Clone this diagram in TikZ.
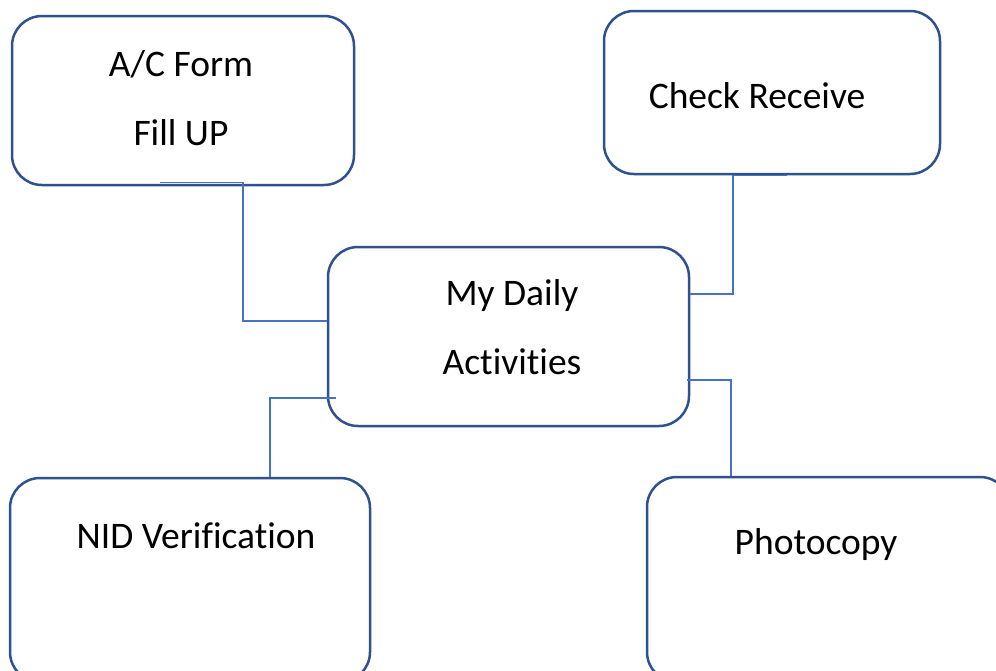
\documentclass[tikz,border=0pt]{standalone}
\usepackage{fontspec}
\setmainfont{Carlito}[Ligatures={NoCommon}]
\definecolor{boxblue}{HTML}{2F528F}
\definecolor{lineblue}{HTML}{4472C4}
\tikzset{
  task/.style={draw=boxblue, line width=2.5pt, rounded corners=30pt, fill=white,
    minimum width=#1, inner sep=0pt},
  txt/.style={font=\fontsize{37.5}{69}\selectfont, align=center, inner sep=0pt},
  link/.style={draw=lineblue, line width=1.5pt}
}
\begin{document}
\begin{tikzpicture}[x=1pt,y=-1pt]
  \clip (0,0) rectangle (996,670);
  \fill[white] (0,0) rectangle (996,670);
  \node[task=342pt, minimum height=169pt] (ac) at (183,100.5) {};
  \node[task=336pt, minimum height=163pt] (cr) at (772,92.5) {};
  \node[task=361pt, minimum height=179pt] (daily) at (508.5,336.5) {};
  \node[task=360pt, minimum height=204pt] (nid) at (190,580) {};
  \node[task=363pt, minimum height=205pt] (photo) at (828.5,579.5) {};
  \node[txt] (actext) at (181,98.5) {A/C Form\\Fill UP};
  \node[txt] (crtext) at (757,96) {Check Receive};
  \node[txt] (dailytext) at (512,327) {My Daily\\Activities};
  \node[txt] (nidtext) at (196,536) {NID Verification};
  \node[txt] (phototext) at (816,544) {Photocopy};
  \begin{scope}[link]
    \draw ([xshift=-23pt,yshift=4pt]ac.south) -- ++(83,0) |- ([yshift=15.5pt]daily.west);
    \draw ([yshift=42.5pt]daily.east) -| ([xshift=-39pt]cr.south) -- ([xshift=15pt]cr.south);
    \draw ([shift={(9pt,-61.5pt)}]daily.west) -| ([xshift=80pt]nid.north);
    \draw ([shift={(-3pt,-43.5pt)}]daily.east) -| ([xshift=-97.5pt]photo.north);
  \end{scope}
\end{tikzpicture}
\end{document}
